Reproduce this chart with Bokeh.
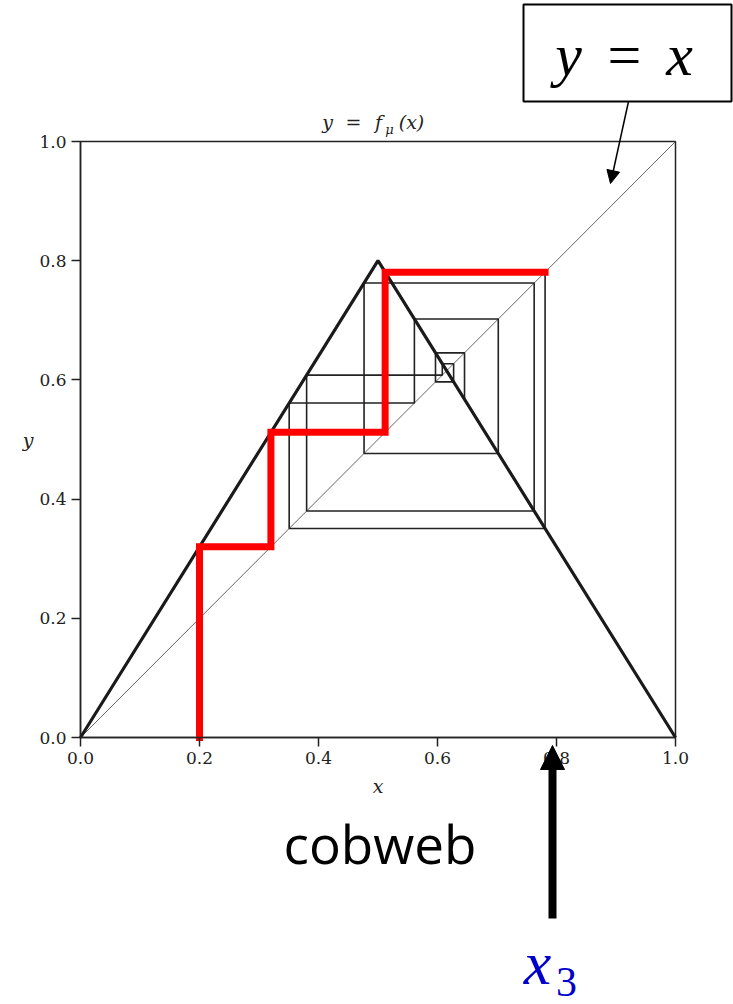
from bokeh.plotting import figure
from bokeh.models import (Range1d, FixedTicker, PrintfTickFormatter, Label,
                          Arrow, NormalHead, LinearAxis)
from bokeh.embed import file_html
from bokeh.resources import INLINE

# Tent map f(x) = mu * min(x, 1 - x) with mu = 1.6
tent_x = [0.0, 0.5, 1.0]
tent_y = [0.0, 0.8, 0.0]

# identity line y = x
diag_x = [0.0, 1.0]
diag_y = [0.0, 1.0]

# orbit x_0, x_1, ... of the tent map started at x_0 = 0.2
orbit = [0.2, 0.32, 0.512, 0.7808, 0.35072, 0.561152, 0.7021568,
         0.47654912, 0.762478592, 0.3800342528, 0.6080548045,
         0.6271123128, 0.5966202995, 0.6454075208, 0.5673479666]
n_highlight = 3          # steps x_0 -> x_3 drawn in red

tick_values = [0.0, 0.2, 0.4, 0.6, 0.8, 1.0]


def cobweb(points):
    """Staircase path: up to the map, across to the diagonal, repeat."""
    xs, ys = [points[0]], [0.0]
    for a, b in zip(points[:-1], points[1:]):
        xs += [a, b]
        ys += [b, b]
    return xs, ys


# page size and where the unit square sits on it (pixels from top-left)
W, H = 733, 1004
LEFT, RIGHT, TOP, BOTTOM = 80, 675, 141, 737


def dx(px):
    return (px - LEFT) / (RIGHT - LEFT)


def dy(py):
    return (BOTTOM - py) / (BOTTOM - TOP)


# the plotting frame covers the whole page so that the callouts around
# the unit square are drawn too; the axes sit at x = 0 and y = 0
p = figure(width=W, height=H, output_backend="svg", toolbar_location=None,
           x_range=Range1d(dx(0), dx(W)), y_range=Range1d(dy(H), dy(0)),
           x_axis_location=None, y_axis_location=None, min_border=0)
p.background_fill_color = "white"
p.border_fill_color = "white"
p.outline_line_color = None
p.grid.visible = False

serif = "DejaVu Serif"
ink = "#222222"
xaxis = LinearAxis(fixed_location=0.0, bounds=(0, 1))
yaxis = LinearAxis(fixed_location=0.0, bounds=(0, 1))
p.add_layout(xaxis, "below")
p.add_layout(yaxis, "left")
for ax in (xaxis, yaxis):
    ax.ticker = FixedTicker(ticks=tick_values)
    ax.formatter = PrintfTickFormatter(format="%.1f")
    ax.minor_tick_line_color = None
    ax.major_tick_in = 0
    ax.major_tick_out = 9
    ax.major_tick_line_color = ink
    ax.major_tick_line_width = 1.5
    ax.axis_line_color = ink
    ax.axis_line_width = 1.5
    ax.major_label_text_font = serif
    ax.major_label_text_font_size = "17px"
    ax.major_label_text_color = ink
    ax.axis_label_text_font = serif
    ax.axis_label_text_font_style = "italic"
    ax.axis_label_text_font_size = "19px"
    ax.axis_label_text_color = ink
    ax.major_label_standoff = 5

xaxis.axis_label = "x"
xaxis.axis_label_standoff = 8
yaxis.axis_label = "y"
yaxis.axis_label_orientation = "horizontal"
yaxis.axis_label_standoff = 3

# box around the unit square
p.quad(left=[0.0], right=[1.0], bottom=[0.0], top=[1.0], fill_color=None,
       line_color=ink, line_width=1.5)

# curves
p.line(diag_x, diag_y, line_color="#555555", line_width=0.9)
bx, by = cobweb(orbit)
p.line(bx[:-1], by[:-1], line_color=ink, line_width=1.6)
p.line(tent_x, tent_y, line_color="#1a1a1a", line_width=3.2)
rx, ry = cobweb(orbit[:n_highlight + 1])
p.line(rx, ry, line_color="#ff0000", line_width=7, line_join="miter",
       line_cap="square")


def label(txt, cx, base, font, size, color, style="normal", align="center"):
    # base is the text baseline in page pixels; labels are anchored at the
    # bottom of their box, which lies about a fifth of the size lower
    p.add_layout(Label(x=dx(cx), y=dy(base + 0.2 * size), text=txt,
                       text_font=font, text_font_style=style,
                       text_font_size=f"{size}px", text_color=color,
                       text_align=align, text_baseline="bottom"))


# title y = f_mu(x)
label("y", 327, 129, serif, 19, ink, "italic")
label("=", 353, 129, serif, 19, ink)
label("f", 378, 129, serif, 19, ink, "italic")
label("μ", 389, 134, serif, 13, ink, "italic")
label("(x)", 411, 129, serif, 19, ink, "italic")

# "y = x" callout
p.quad(left=[dx(523)], right=[dx(731)], top=[dy(4)], bottom=[dy(101)],
       fill_color="white", line_color="black", line_width=2)
math = "Liberation Serif"
label("y", 568, 75, math, 60, "black", "italic")
label("=", 624, 75, math, 60, "black")
label("x", 679, 75, math, 60, "black", "italic")
p.add_layout(Arrow(x_start=dx(628), y_start=dy(101), x_end=dx(610), y_end=dy(183),
                   line_color="black", line_width=1.5,
                   end=NormalHead(size=13, fill_color="black", line_color="black")))

# "cobweb" and the arrow to x_3
label("cobweb", 283, 869, "Open Sans", 53, "black", align="left")
p.add_layout(Arrow(x_start=dx(552), y_start=dy(918), x_end=dx(552), y_end=dy(745),
                   line_color="black", line_width=8,
                   end=NormalHead(size=24, fill_color="black", line_color="black",
                                  line_width=1)))
label("x", 537, 984, math, 62, "#0000cc", "italic")
label("3", 566, 987, math, 42, "#0000cc")

open("out.html", "w").write(file_html(p, INLINE))
